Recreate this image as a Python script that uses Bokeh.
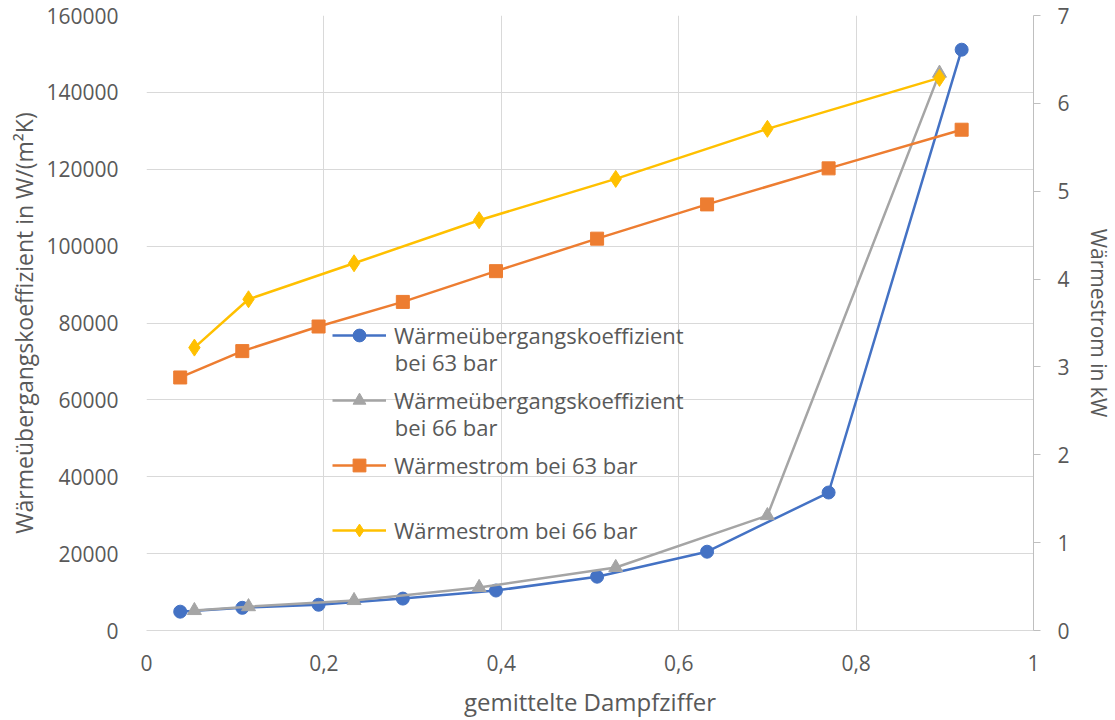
from bokeh.plotting import figure
from bokeh.models import (Range1d, LinearAxis, FixedTicker, NumeralTickFormatter,
                          CustomJSTickFormatter, Legend, LegendItem, Label)
from bokeh.embed import file_html
from bokeh.resources import INLINE

# Heat transfer coefficient (W/(m²K)) over mean vapour quality
x_63 = [0.038, 0.108, 0.194, 0.289, 0.394, 0.508, 0.632, 0.769, 0.919]
htc_63 = [4900, 5900, 6700, 8300, 10400, 14000, 20500, 35900, 151100]
x_66 = [0.054, 0.115, 0.234, 0.375, 0.529, 0.700, 0.894]
htc_66 = [5200, 6200, 7800, 11200, 16400, 29900, 145000]

# Heat flow (kW) over mean vapour quality
q_63 = [2.88, 3.18, 3.46, 3.74, 4.09, 4.46, 4.85, 5.26, 5.70]
q_66 = [3.22, 3.77, 4.18, 4.67, 5.14, 5.71, 6.29]

x_ticks = [0, 0.2, 0.4, 0.6, 0.8, 1]
y_ticks = [0, 20000, 40000, 60000, 80000, 100000, 120000, 140000, 160000]
y2_ticks = [0, 1, 2, 3, 4, 5, 6, 7]

legend_main = ["Wärmeübergangskoeffizient", "Wärmeübergangskoeffizient",
               "Wärmestrom bei 63 bar", "Wärmestrom bei 66 bar"]
legend_second = ["bei 63 bar", "bei 66 bar"]

BLUE, GRAY, ORANGE, YELLOW = "#4472C4", "#A5A5A5", "#ED7D31", "#FFC000"
TXT = "#595959"
FONT = "Open Sans"

p = figure(width=1115, height=720, output_backend="svg", toolbar_location=None,
           x_range=Range1d(0, 1), y_range=Range1d(0, 160000),
           min_border_left=146, min_border_right=82, min_border_top=15,
           min_border_bottom=90)
p.extra_y_ranges = {"kw": Range1d(0, 7)}
p.outline_line_color = None
p.background_fill_color = "white"
p.border_fill_color = "white"

# grid
p.xgrid.ticker = FixedTicker(ticks=x_ticks)
p.ygrid.ticker = FixedTicker(ticks=y_ticks)
for g in (p.xgrid, p.ygrid):
    g.grid_line_color = "#d9d9d9"
    g.grid_line_width = 1

# bottom axis
xa = p.xaxis[0]
xa.ticker = FixedTicker(ticks=x_ticks)
xa.formatter = CustomJSTickFormatter(
    code="return tick.toFixed(1).replace('.', ',').replace(',0', '');")
xa.axis_label = "gemittelte Dampfziffer"
xa.axis_line_color = "#d9d9d9"
xa.major_tick_line_color = None
xa.minor_tick_line_color = None
xa.major_label_standoff = 18
xa.axis_label_standoff = 11

# left axis
ya = p.yaxis[0]
ya.ticker = FixedTicker(ticks=y_ticks)
ya.formatter = NumeralTickFormatter(format="0")
ya.axis_label = "Wärmeübergangskoeffizient in W/(m²K)"
ya.axis_line_color = None
ya.major_tick_line_color = None
ya.minor_tick_line_color = None
ya.major_label_standoff = 22
ya.axis_label_standoff = 3

# right axis (heat flow in kW)
ra = LinearAxis(y_range_name="kw", ticker=FixedTicker(ticks=y2_ticks),
                axis_label="Wärmestrom in kW")
ra.axis_line_color = "#bfbfbf"
ra.major_tick_line_color = "#bfbfbf"
ra.major_tick_out = 7
ra.major_tick_in = 0
ra.minor_tick_line_color = None
ra.major_label_standoff = 17
ra.axis_label_standoff = 12
p.add_layout(ra, "right")

for ax in (xa, ya, ra):
    ax.major_label_text_font = FONT
    ax.major_label_text_font_size = "21px"
    ax.major_label_text_color = TXT
    ax.axis_label_text_font = FONT
    ax.axis_label_text_font_style = "normal"
    ax.axis_label_text_color = TXT
xa.axis_label_text_font_size = "24px"
ya.axis_label_text_font_size = "23px"
ra.axis_label_text_font_size = "21px"

LW = 2.5
l1 = p.line(x_63, htc_63, color=BLUE, line_width=LW)
m1 = p.scatter(x_63, htc_63, marker="circle", size=13, color=BLUE)
l2 = p.line(x_66, htc_66, color=GRAY, line_width=LW)
m2 = p.scatter(x_66, htc_66, marker="triangle", size=14, color=GRAY)
l3 = p.line(x_63, q_63, color=ORANGE, line_width=LW, y_range_name="kw")
m3 = p.scatter(x_63, q_63, marker="square", size=13, color=ORANGE, y_range_name="kw")
l4 = p.line(x_66, q_66, color=YELLOW, line_width=LW, y_range_name="kw")
m4 = p.scatter(x_66, q_66, marker="diamond", size=17, color=YELLOW, y_range_name="kw")

legend = Legend(items=[
    LegendItem(label=legend_main[0], renderers=[l1, m1]),
    LegendItem(label=legend_main[1], renderers=[l2, m2]),
    LegendItem(label=legend_main[2], renderers=[l3, m3]),
    LegendItem(label=legend_main[3], renderers=[l4, m4]),
], location=(186, 84))
legend.background_fill_alpha = 0
legend.border_line_color = None
legend.label_text_font = FONT
legend.label_text_font_size = "22px"
legend.label_text_color = TXT
legend.glyph_width = 54
legend.glyph_height = 32
legend.label_height = 30
legend.label_standoff = 8
legend.spacing = 33
legend.padding = 4
legend.margin = 0
p.add_layout(legend, "center")

# second lines of the two wrapped legend entries
for txt, yv in zip(legend_second, [69900, 52900]):
    p.add_layout(Label(x=0.2800, y=yv, text=txt, text_font=FONT,
                       text_font_size="22px", text_color=TXT,
                       text_baseline="middle", text_align="left"))

open("out.html", "w").write(file_html(p, INLINE))
